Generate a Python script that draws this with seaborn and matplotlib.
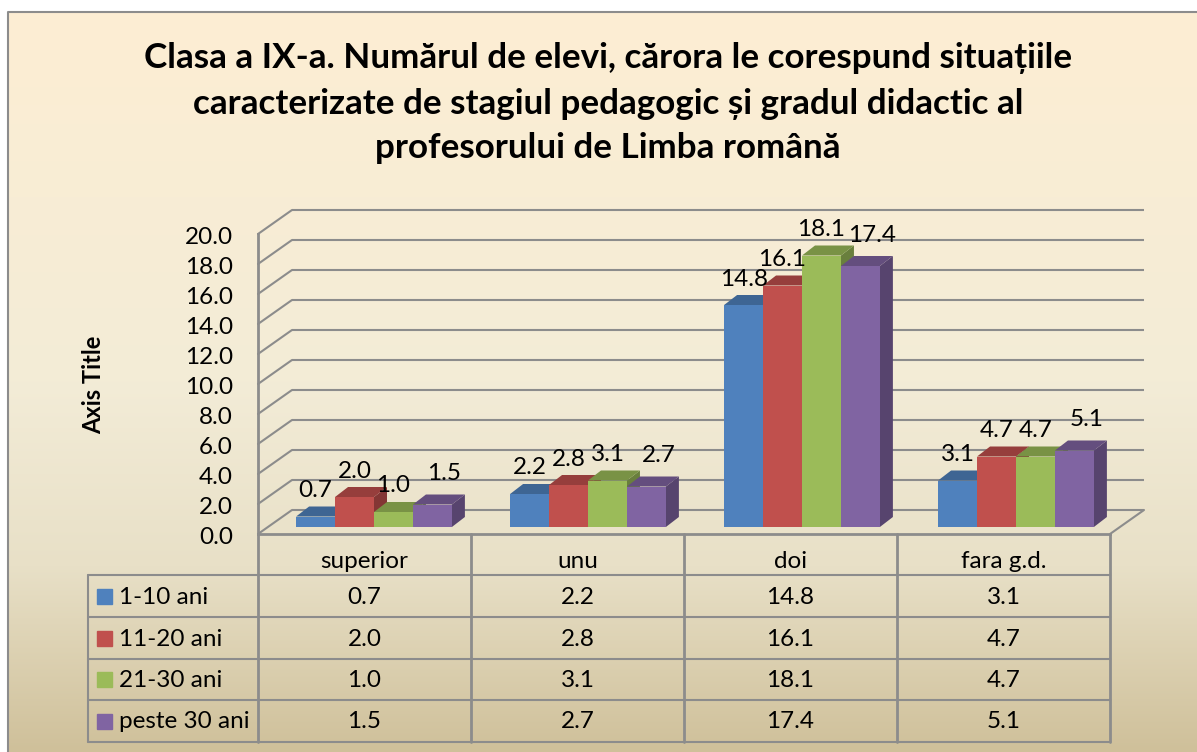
import numpy as np
import pandas as pd
import matplotlib
matplotlib.use("Agg")
import matplotlib.pyplot as plt
from matplotlib.colors import LinearSegmentedColormap, to_rgb
from matplotlib.patches import Polygon, Rectangle
from matplotlib.transforms import Affine2D, IdentityTransform
import seaborn as sns

grades = ["superior", "unu", "doi", "fara g.d."]
periods = ["1-10 ani", "11-20 ani", "21-30 ani", "peste 30 ani"]
ani_1_10 = [0.7, 2.2, 14.8, 3.1]
ani_11_20 = [2.0, 2.8, 16.1, 4.7]
ani_21_30 = [1.0, 3.1, 18.1, 4.7]
ani_peste_30 = [1.5, 2.7, 17.4, 5.1]
series = [ani_1_10, ani_11_20, ani_21_30, ani_peste_30]
colors = ["#4F81BD", "#C0504D", "#9BBB59", "#8064A2"]
yticks = [0, 2, 4, 6, 8, 10, 12, 14, 16, 18, 20]
title = ("Clasa a IX-a. Numărul de elevi, cărora le corespund situațiile\n"
         "caracterizate de stagiul pedagogic și gradul didactic al\n"
         "profesorului de Limba română")

W, H = 1197, 752
GRAY = "#8c8c8c"
LW = 1.5
FS = 17.5

sns.set_theme(style="white")
plt.rcParams['font.family'] = ['Lato', 'Noto Sans', 'DejaVu Sans']

fig = plt.figure(figsize=(W / 100, H / 100), dpi=100, facecolor="white")

# canvas in image pixels, for background and table
canvas = fig.add_axes([0, 0, 1, 1], zorder=0)
canvas.set_xlim(0, W)
canvas.set_ylim(H, 0)
canvas.axis("off")
cmap = LinearSegmentedColormap.from_list("bg", [(0, "#fdeed3"), (0.5, "#f3ecd7"),
                                                (0.75, "#e8e0c7"), (1, "#cfc09a")])
canvas.imshow(np.linspace(0, 1, 256).reshape(-1, 1), cmap=cmap, aspect="auto",
              extent=[8, W, H, 12], zorder=0)
canvas.set_xlim(0, W)
canvas.set_ylim(H, 0)
canvas.plot([8, 8, W], [H, 12, 12], color=GRAY, lw=LW, zorder=1)

canvas.text(608, 103.5, title, ha="center", va="center", fontsize=25.2,
            fontweight="bold", color="black", linespacing=1.5)
canvas.text(94, 385, "Axis Title", rotation=90, ha="center", va="center",
            fontsize=17, fontweight="bold", color="black")

# data table
col_x = [258, 471, 684, 897, 1110]
row_y = [575, 617, 659, 700, 742]
for x in col_x:
    canvas.plot([x, x], [534, 742], color=GRAY, lw=LW + 0.5, zorder=2)
canvas.plot([88, 88], [575, 742], color=GRAY, lw=LW, zorder=2)
for y in row_y:
    canvas.plot([88, 1110], [y, y], color=GRAY, lw=LW, zorder=2)
for r, name in enumerate(periods):
    yc = (row_y[r] + row_y[r + 1]) / 2
    canvas.add_patch(Rectangle((97, yc - 7.5), 15, 15, color=colors[r], zorder=3))
    canvas.text(119, yc + 1, name, ha="left", va="center", fontsize=FS, color="black")
    for c in range(4):
        canvas.text((col_x[c] + col_x[c + 1]) / 2, yc + 1, f"{series[r][c]:.1f}",
                    ha="center", va="center", fontsize=FS, color="black")

# chart
df = pd.DataFrame({
    "grad": np.tile(grades, len(periods)),
    "stagiu": np.repeat(periods, len(grades)),
    "elevi": np.concatenate(series),
})
ax = fig.add_axes([258 / W, 1 - 534 / H, 852 / W, 300 / H], zorder=1)
ax.patch.set_alpha(0)
sns.barplot(data=df, x="grad", y="elevi", hue="stagiu", hue_order=periods,
            palette=colors, saturation=1, width=0.728, gap=0, legend=False,
            linewidth=0, ax=ax)
ax.set_xlim(-0.5, 3.5)
ax.set_ylim(0, 20)
ax.set_xlabel("")
ax.set_ylabel("")
ax.set_yticks(yticks)
ax.set_yticklabels([f"{v:.1f}" for v in yticks], fontsize=FS, color="black")
ax.tick_params(axis="y", length=0, pad=18)
ax.tick_params(axis="x", length=0, pad=12, labelsize=FS, labelcolor="black")
for label in ax.get_yticklabels():
    label.set_transform(label.get_transform() + Affine2D().translate(0, -1.5))
sns.despine(ax=ax, top=True, right=True, bottom=False, left=False)
ax.spines["left"].set_color(GRAY)
ax.spines["left"].set_linewidth(LW + 0.5)
ax.spines["bottom"].set_color(GRAY)
ax.spines["bottom"].set_linewidth(LW + 0.5)

# back wall, side wall and floor
pix = IdentityTransform()
back = ax.transData + Affine2D().translate(34, 24)
ax.hlines(yticks, -0.5, 3.5, colors=GRAY, lw=LW, transform=back, clip_on=False, zorder=1)
for v in yticks:
    x0, y0 = ax.transData.transform((-0.5, v))
    ax.plot([x0, x0 + 34], [y0, y0 + 24], color=GRAY, lw=LW, transform=pix,
            clip_on=False, zorder=1)
x1, y1 = ax.transData.transform((3.5, 0))
ax.plot([x1, x1 + 34], [y1, y1 + 24], color=GRAY, lw=LW, transform=pix,
        clip_on=False, zorder=1)

# bars get a small shift into the depth, then side and top faces
shift = ax.transData + Affine2D().translate(-258, 0).scale(214 / 213, 1).translate(258 + 9, 7)
dx, dy = 13, 10


def shade(color, k):
    return tuple(c * k for c in to_rgb(color))


for i, container in enumerate(ax.containers):
    z = 3 + i
    for j, bar in enumerate(container):
        bar.set_transform(shift)
        bar.set_clip_on(False)
        bar.set_zorder(z + 0.5)
        (xa, ya), (xb, yb) = shift.transform([(bar.get_x(), 0),
                                              (bar.get_x() + bar.get_width(), bar.get_height())])
        ax.add_patch(Polygon([(xb, ya), (xb + dx, ya + dy), (xb + dx, yb + dy), (xb, yb)],
                             color=shade(colors[i], 0.68), lw=0, transform=pix,
                             clip_on=False, zorder=z))
        ax.add_patch(Polygon([(xa, yb), (xa + dx, yb + dy), (xb + dx, yb + dy), (xb, yb)],
                             color=shade(colors[i], 0.78), lw=0, transform=pix,
                             clip_on=False, zorder=z))
        off = (12, 31) if i == 3 else (0, 26)
        ax.annotate(f"{series[i][j]:.1f}", xy=(bar.get_x() + bar.get_width() / 2, bar.get_height()),
                    xycoords=shift, xytext=(off[0] * 0.72, off[1] * 0.72),
                    textcoords="offset points", ha="center", va="center",
                    fontsize=FS, color="black", zorder=10, annotation_clip=False)

fig.savefig("out.png", dpi=100)
